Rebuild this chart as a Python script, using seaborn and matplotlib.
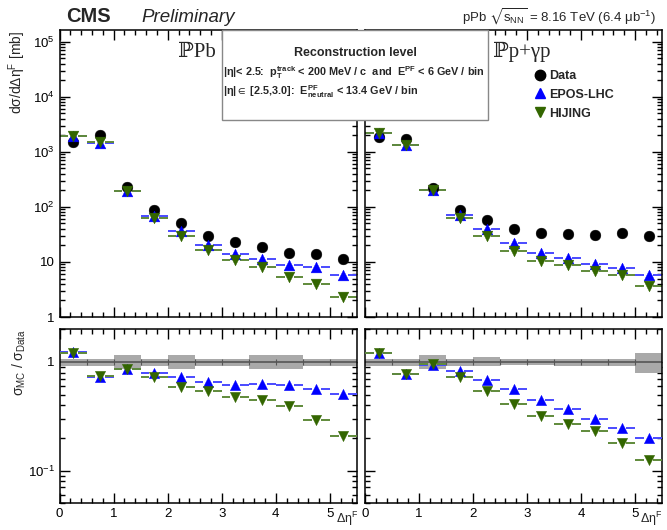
import numpy as np
import pandas as pd
import matplotlib
matplotlib.use("Agg")
import matplotlib.pyplot as plt
import seaborn as sns
from matplotlib.lines import Line2D
from matplotlib.patches import Rectangle
from matplotlib.ticker import LogLocator, FixedLocator, MultipleLocator, NullFormatter, FixedFormatter

# ---------------- data ----------------
bin_lo = [0.0, 0.5, 1.0, 1.5, 2.0, 2.5, 3.0, 3.5, 4.0, 4.5, 5.0]
bin_hi = [0.5, 1.0, 1.5, 2.0, 2.5, 3.0, 3.5, 4.0, 4.5, 5.0, 5.5]
bin_center = [0.25, 0.75, 1.25, 1.75, 2.25, 2.75, 3.25, 3.75, 4.25, 4.75, 5.25]

# IPPb panel
data_L = [1540, 2040, 234, 88, 50, 30, 23, 18.5, 14.4, 13.8, 11.5]
epos_L = [1980, 1440, 196, 67, 36.6, 20.6, 14.0, 11.3, 8.7, 8.0, 5.8]
hijing_L = [1950, 1480, 196, 62, 30, 16.5, 10.9, 8.0, 5.4, 4.0, 2.34]
epos_ratio_L = [1.23, 0.73, 0.86, 0.79, 0.72, 0.66, 0.61, 0.63, 0.61, 0.56, 0.51]
hijing_ratio_L = [1.20, 0.75, 0.87, 0.72, 0.59, 0.54, 0.48, 0.45, 0.39, 0.29, 0.21]
syst_lo_L = [0.925, 0.925, 0.86, 0.925, 0.86, 0.925, 0.925, 0.86, 0.86, 0.925, 0.925]
syst_hi_L = [1.07, 1.07, 1.15, 1.07, 1.15, 1.07, 1.07, 1.15, 1.15, 1.07, 1.07]

# IPp+gamma p panel
data_R = [1850, 1720, 219, 88, 58, 39.3, 33, 32.3, 30.5, 33, 29.3]
epos_R = [2200, 1320, 204, 71.6, 39.3, 21.9, 14.8, 12.0, 9.1, 7.9, 5.7]
hijing_R = [2180, 1320, 200, 62, 30, 15.8, 10.4, 8.7, 6.95, 5.7, 3.7]
epos_ratio_R = [1.21, 0.78, 0.94, 0.83, 0.68, 0.56, 0.45, 0.37, 0.30, 0.245, 0.20]
hijing_ratio_R = [1.21, 0.78, 0.95, 0.73, 0.54, 0.41, 0.32, 0.27, 0.23, 0.178, 0.126]
syst_lo_R = [0.925, 0.925, 0.86, 0.925, 0.91, 0.93, 0.93, 0.91, 0.925, 0.925, 0.79]
syst_hi_R = [1.07, 1.07, 1.15, 1.07, 1.11, 1.07, 1.07, 1.07, 1.07, 1.07, 1.21]

series_names = ["Data", "EPOS-LHC", "HIJING"]
top_ytick_vals = [1, 10, 100, 1e3, 1e4, 1e5]
top_ytick_labels = ["1", "10", "$10^{2}$", "$10^{3}$", "$10^{4}$", "$10^{5}$"]
ratio_ytick_vals = [0.1, 1]
ratio_ytick_labels = ["$10^{-1}$", "1"]
xtick_vals = [0, 1, 2, 3, 4, 5]

# ---------------- style ----------------
sns.set_theme(style="ticks")
plt.rcParams["font.family"] = ["Liberation Sans", "DejaVu Sans"]
plt.rcParams["mathtext.fontset"] = "custom"
plt.rcParams["mathtext.rm"] = "Liberation Sans"
plt.rcParams["mathtext.it"] = "Liberation Sans:italic"
plt.rcParams["mathtext.bf"] = "Liberation Sans:bold"
plt.rcParams["mathtext.fallback"] = "stixsans"
plt.rcParams["axes.linewidth"] = 1.1

C_DATA = "black"
C_EPOS = "#0000ff"
C_EPOS_L = "#4a4aff"
C_HIJ = "#336600"
C_HIJ_L = "#5f8a3a"

W, H = 667, 530
fig = plt.figure(figsize=(W / 100, H / 100), dpi=100)


def ax_rect(x0, x1, y0, y1):
    return [x0 / W, 1 - y1 / H, (x1 - x0) / W, (y1 - y0) / H]


axTL = fig.add_axes(ax_rect(59.5, 357, 30.5, 317))
axTR = fig.add_axes(ax_rect(365, 662, 30.5, 317))
axBL = fig.add_axes(ax_rect(59.5, 357, 329.3, 503.3))
axBR = fig.add_axes(ax_rect(365, 662, 329.3, 503.3))

GAP = 0.09


def bin_dashes(ax, vals, color, z):
    lo = np.array(bin_lo)
    hi = np.array(bin_hi)
    c = np.array(bin_center)
    v = np.array(vals)
    ax.hlines(v, lo, c - GAP, color=color, lw=1.4, zorder=z)
    ax.hlines(v, c + GAP, hi, color=color, lw=1.4, zorder=z)


def markers(ax, vals, marker, color, size):
    df = pd.DataFrame({"x": bin_center, "y": vals})
    sns.scatterplot(data=df, x="x", y="y", marker=marker, s=size, color=color,
                    edgecolor=color, linewidth=0.3, ax=ax, zorder=5, legend=False)


def style_axis(ax, ylim, yticks, ylabels, show_y, show_x):
    ax.set_xlim(0, 5.5)
    ax.set_yscale("log")
    ax.set_ylim(*ylim)
    ax.xaxis.set_major_locator(FixedLocator(xtick_vals))
    ax.xaxis.set_minor_locator(MultipleLocator(0.2))
    ax.yaxis.set_major_locator(FixedLocator(yticks))
    ax.yaxis.set_minor_locator(LogLocator(base=10, subs=np.arange(2, 10), numticks=20))
    ax.yaxis.set_minor_formatter(NullFormatter())
    if show_y:
        ax.yaxis.set_major_formatter(FixedFormatter(ylabels))
    else:
        ax.yaxis.set_major_formatter(NullFormatter())
    if not show_x:
        ax.xaxis.set_major_formatter(NullFormatter())
    ax.tick_params(which="both", direction="in", top=True, right=True,
                   labelsize=9.5, colors="black", width=1.0)
    ax.tick_params(which="major", length=7)
    ax.tick_params(which="minor", length=3.5)
    ax.set_xlabel("")
    ax.set_ylabel("")
    for s in ax.spines.values():
        s.set_color("black")
        s.set_visible(True)


def draw_top(ax, data, epos, hij):
    bin_dashes(ax, epos, C_EPOS_L, 2)
    bin_dashes(ax, hij, C_HIJ_L, 2)
    markers(ax, data, "o", C_DATA, 60)
    markers(ax, epos, "^", C_EPOS, 60)
    markers(ax, hij, "v", C_HIJ, 60)


def draw_ratio(ax, er, hr, slo, shi):
    lo = np.array(slo)
    hi = np.array(shi)
    ax.bar(bin_center, hi - lo, bottom=lo, width=0.5, color="#a9a9a9",
           edgecolor="none", zorder=1)
    ax.hlines([1.0], 0, 5.5, color="#555555", lw=1.2, zorder=2)
    ax.vlines(bin_hi[:-1], 0.93, 1.07, color="#555555", lw=0.8, zorder=2)
    bin_dashes(ax, er, C_EPOS_L, 3)
    bin_dashes(ax, hr, C_HIJ_L, 3)
    markers(ax, er, "^", C_EPOS, 55)
    markers(ax, hr, "v", C_HIJ, 55)


draw_top(axTL, data_L, epos_L, hijing_L)
draw_top(axTR, data_R, epos_R, hijing_R)
draw_ratio(axBL, epos_ratio_L, hijing_ratio_L, syst_lo_L, syst_hi_L)
draw_ratio(axBR, epos_ratio_R, hijing_ratio_R, syst_lo_R, syst_hi_R)

style_axis(axTL, (1, 1.6e5), top_ytick_vals, top_ytick_labels, True, False)
style_axis(axTR, (1, 1.6e5), top_ytick_vals, top_ytick_labels, False, False)
style_axis(axBL, (0.05, 2.0), ratio_ytick_vals, ratio_ytick_labels, True, True)
style_axis(axBR, (0.05, 2.0), ratio_ytick_vals, ratio_ytick_labels, False, True)

# axis titles
fig.text(17 / W, 1 - 31 / H, "dσ/dΔη$^{\\mathrm{F}}$ [mb]", rotation=90,
         ha="center", va="top", fontsize=10)
fig.text(19 / W, 1 - 329 / H, "σ$_{\\mathrm{MC}}$ / σ$_{\\mathrm{Data}}$", rotation=90,
         ha="center", va="top", fontsize=10)
for xr in (358, 662):
    fig.text(xr / W, 1 - 523 / H, "Δη$^{\\mathrm{F}}$", ha="right", va="baseline",
             fontsize=9)

# panel labels
serif = ["Liberation Serif", "DejaVu Serif", "DejaVu Sans"]
fig.text(178 / W, 1 - 57 / H, "ℙPb", family=serif, fontsize=15, ha="left",
         va="baseline")
fig.text(493 / W, 1 - 57 / H, "ℙp+γp", family=serif, fontsize=15, ha="left",
         va="baseline")

# header
fig.text(66 / W, 1 - 22 / H, "CMS", fontsize=14.5, fontweight="bold",
         ha="left", va="baseline")
fig.text(141 / W, 1 - 22 / H, "Preliminary", fontsize=13.5, style="italic",
         ha="left", va="baseline")
fig.text(656 / W, 1 - 22 / H,
         "pPb $\\sqrt{\\mathrm{s}_{\\mathrm{NN}}}$ = 8.16 TeV (6.4 μb$^{-1}$)",
         fontsize=9.5, ha="right", va="baseline")

# info box
box = Rectangle((222 / W, 1 - 120 / H), (488 - 222) / W, (120 - 30.5) / H,
                transform=fig.transFigure, facecolor="white", edgecolor="#888888",
                lw=1.0, zorder=10)
fig.patches.append(box)
fig.text(355 / W, 1 - 56 / H, "Reconstruction level", fontsize=9,
         fontweight="bold", ha="center", va="baseline", zorder=11)
fig.text(223 / W, 1 - 76 / H,
         "|η|< 2.5:  $\\mathbf{p}_{\\mathbf{T}}^{\\mathbf{track}}$ < 200 MeV / c  and  "
         "$\\mathbf{E}^{\\mathbf{PF}}$ < 6 GeV / bin",
         fontsize=7.8, fontweight="bold", ha="left", va="baseline", zorder=11)
fig.text(223 / W, 1 - 95 / H,
         "|η|$\\in$ [2.5,3.0]:  $\\mathbf{E}_{\\mathbf{neutral}}^{\\mathbf{PF}}$ < 13.4 GeV / bin",
         fontsize=7.8, fontweight="bold", ha="left", va="baseline", zorder=11)

# legend
handles = [
    Line2D([], [], ls="none", marker="o", ms=7.5, color=C_DATA),
    Line2D([], [], ls="none", marker="^", ms=7.5, color=C_EPOS),
    Line2D([], [], ls="none", marker="v", ms=7.5, color=C_HIJ),
]
leg = axTR.legend(handles, series_names, loc="upper left",
                  bbox_to_anchor=((535 - 365) / 297, (317 - 70) / (317 - 30.5)),
                  frameon=False, handlelength=0.8, handletextpad=0.35,
                  labelspacing=0.55, borderpad=0, borderaxespad=0,
                  prop={"weight": "bold", "size": 9})

fig.savefig("out.png", dpi=100)
